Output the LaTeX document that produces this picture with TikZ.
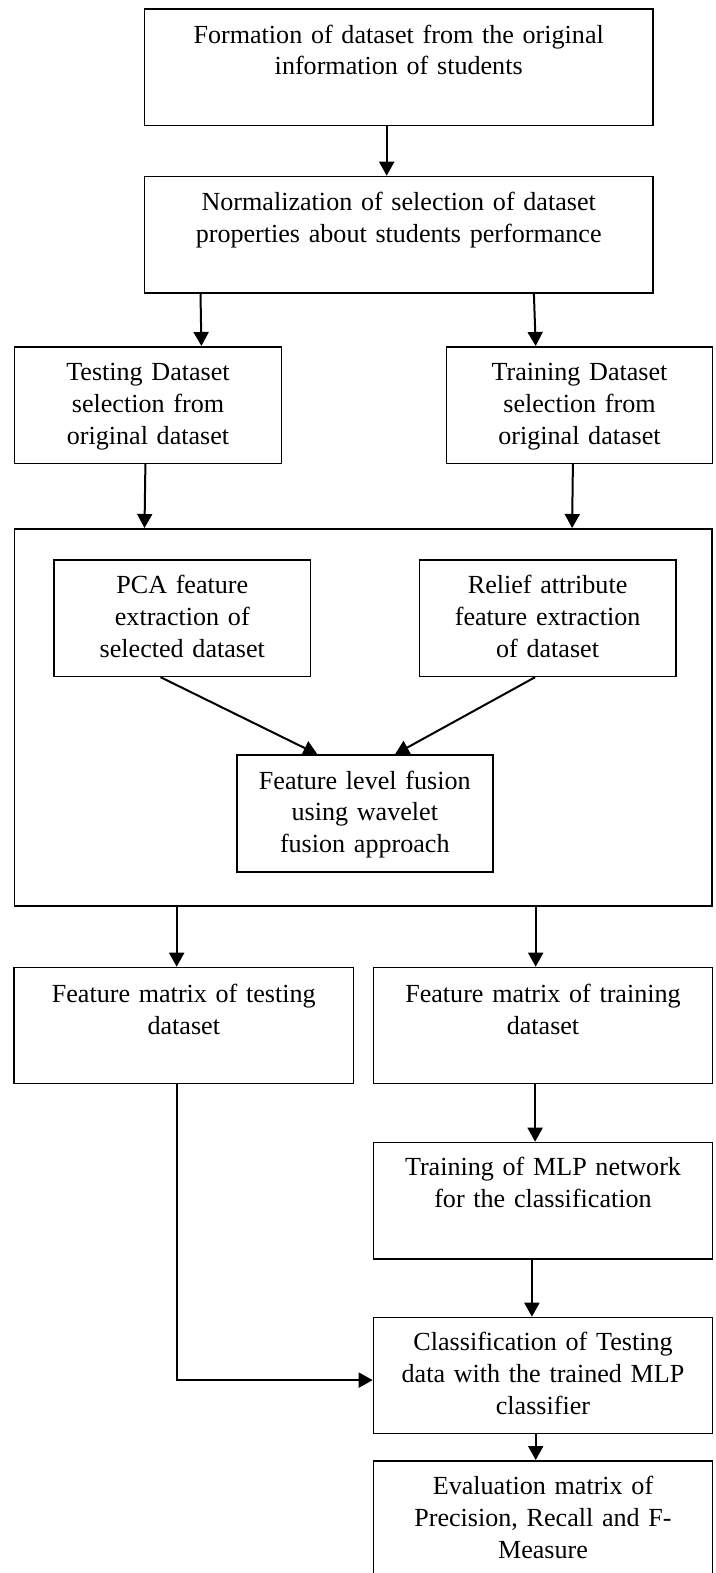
\documentclass[tikz,border=0pt]{standalone}
\usepackage{fontspec}
\setmainfont{Liberation Serif}
\usepackage{tikz}
\usetikzlibrary{positioning, arrows.meta}
\tikzset{
  blk/.style={draw, line width=0.8pt, inner sep=0pt, anchor=north west, align=center,
    font=\fontsize{13.05pt}{15.8pt}\selectfont, text height=17pt, text depth=41.3pt},
  arr/.style={line width=1pt, -{Triangle[length=7pt,width=7.5pt]}}
}

\begin{document}
\begin{tikzpicture}[x=0.5pt, y=-0.5pt]
    \useasboundingbox (0,0) rectangle (716,1573);
    \clip (0,0) rectangle (716,1573);
    \node[blk, text width=254.4pt] (form) at (143.5,8.3) {Formation of dataset from the original\\information of students};
    \node[blk, text width=254.4pt] (norm) at (143.5,175.7) {Normalization of selection of dataset\\properties about students performance};
    \node[blk, text width=133.5pt] (testds) at (13.7,346) {Testing Dataset\\selection from\\original dataset};
    \node[blk, text width=133pt] (trainds) at (445.7,346) {Training Dataset\\selection from\\original dataset};
    % fusion stage
    \node[draw, line width=0.8pt, inner sep=0pt, anchor=north west, minimum width=348.6pt, minimum height=188.5pt] (frame) at (13.7,528) {};
    \node[blk, text width=128.1pt] (pca) at (53.4,559) {PCA feature\\extraction of\\selected dataset};
    \node[blk, text width=128.1pt] (relief) at (418.7,559) {Relief attribute\\feature extraction\\of dataset};
    \node[blk, text width=128pt, text depth=41.5pt] (fusion) at (236,754.3) {Feature level fusion\\using wavelet\\fusion approach};
    \node[blk, text width=169.7pt, text height=17.5pt, text depth=40.5pt] (testfm) at (13.3,966.7) {Feature matrix of testing\\dataset};
    \node[blk, text width=169.5pt, text height=17.5pt, text depth=40.5pt] (trainfm) at (372.7,966.7) {Feature matrix of training\\dataset};
    \node[blk, text width=169.5pt, text height=16.7pt, text depth=41.6pt] (mlp) at (372.7,1141.7) {Training of MLP network\\for the classification};
    \node[blk, text width=169.5pt, text height=16.7pt] (classify) at (372.7,1316.7) {Classification of Testing\\data with the trained MLP\\classifier};
    \node[blk, text width=169.5pt, text depth=50pt] (evalm) at (372.7,1460) {Evaluation matrix of\\Precision, Recall and F-\\Measure};

    \draw[arr] ([xshift=-6pt]form.south) -- ([xshift=-6pt]norm.north);
    \draw[arr] ([xshift=28.5pt]norm.south west) -- ([xshift=26.7pt]testds.north);
    \draw[arr] ([xshift=-60pt]norm.south east) -- ([xshift=45pt]trainds.north west);
    \draw[arr] ([xshift=-1.3pt]testds.south) -- ([xshift=65.4pt]frame.north west);
    \draw[arr] ([xshift=-3.3pt]trainds.south) -- ([xshift=279.2pt]frame.north west);
    \draw[arr] ([xshift=53.6pt]pca.south west) -- ([xshift=40.7pt]fusion.north west);
    \draw[arr] ([xshift=58.2pt]relief.south west) -- ([xshift=79.5pt]fusion.north west);
    \draw[arr] ([xshift=81.5pt]frame.south west) -- ([xshift=81.7pt]testfm.north west);
    \draw[arr] ([xshift=261pt]frame.south west) -- ([xshift=81.5pt]trainfm.north west);
    \draw[arr] ([xshift=81.2pt]trainfm.south west) -- ([xshift=81.2pt]mlp.north west);
    \draw[arr] ([xshift=79.6pt]mlp.south west) -- ([xshift=79.6pt]classify.north west);
    \draw[arr] ([xshift=81.5pt]classify.south west) -- ([xshift=81.5pt]evalm.north west);
    \draw[arr] ([xshift=81.7pt]testfm.south west) |- ([yshift=-2.3pt]classify.west);
  \end{tikzpicture}
\end{document}
